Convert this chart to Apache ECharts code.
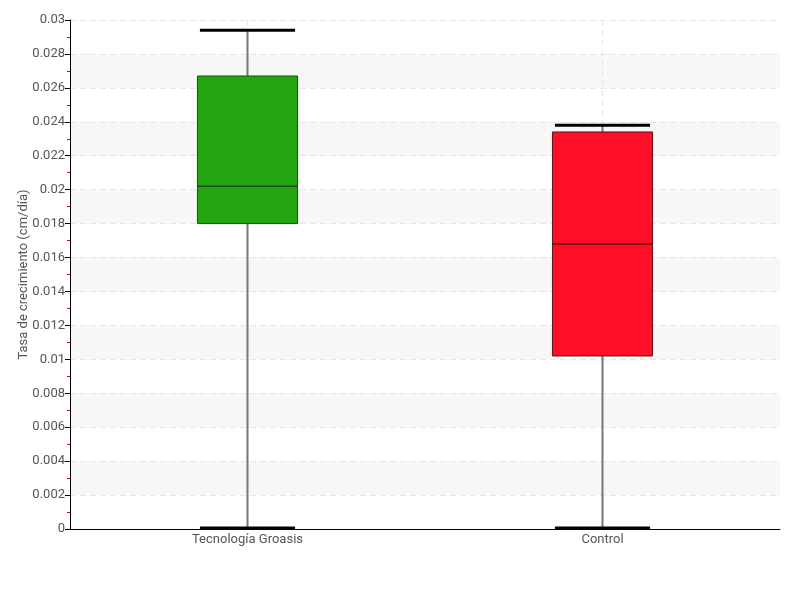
<!DOCTYPE html>
<html>
<head>
<meta charset="utf-8">
<script src="https://cdn.jsdelivr.net/npm/echarts@6/dist/echarts.min.js"></script>
<style>html,body{margin:0;padding:0;background:#fff}#c{width:800px;height:600px}</style>
</head>
<body>
<div id="c"></div>
<script>
const categories = ['Tecnología Groasis', 'Control'];
const mins = [0, 0];
const q1s = [0.0180, 0.0102];
const medians = [0.0202, 0.0168];
const q3s = [0.0267, 0.0234];
const maxs = [0.0294, 0.0238];
const fills = ['#22a511', '#ff0f27'];
const borders = ['#1d4a17', '#5a1018'];
const yTicks = [0, 0.002, 0.004, 0.006, 0.008, 0.01, 0.012, 0.014, 0.016, 0.018, 0.02, 0.022, 0.024, 0.026, 0.028, 0.03];

const FONT = 'Roboto, "Liberation Sans", sans-serif';
const data = categories.map((c, i) => [i, mins[i], q1s[i], medians[i], q3s[i], maxs[i]]);

const chart = echarts.init(document.getElementById('c'), null, {renderer: 'canvas'});
chart.setOption({
  animation: false,
  grid: {left: 70, right: 20, top: 20, bottom: 71, containLabel: false, outerBoundsMode: 'none'},
  xAxis: {
    type: 'category',
    data: categories,
    boundaryGap: true,
    axisLine: {lineStyle: {color: '#000', width: 1}},
    axisTick: {show: false},
    axisLabel: {color: '#555', fontFamily: FONT, fontSize: 13, margin: 4},
    splitLine: {show: true, alignWithLabel: true, lineStyle: {color: '#e6e6e6', type: [6, 4]}}
  },
  yAxis: {
    type: 'value',
    min: 0, max: 0.03, interval: 0.002,
    name: 'Tasa de crecimiento (cm/día)',
    nameLocation: 'middle',
    nameGap: 40,
    nameMoveOverlap: false,
    nameTextStyle: {color: '#555', fontFamily: FONT, fontSize: 13},
    axisLine: {show: true, onZero: false, lineStyle: {color: '#000', width: 1}},
    axisTick: {show: true, inside: false, length: 5, lineStyle: {color: '#000'}},
    minorTick: {show: true, splitNumber: 2, length: 3, lineStyle: {color: '#e00000'}},
    axisLabel: {color: '#555', fontFamily: FONT, fontSize: 13, margin: 5, inside: false,
      formatter: v => { const t = yTicks.find(x => Math.abs(x - v) < 1e-9); return String(+(t !== undefined ? t : v).toFixed(3)); }},
    splitLine: {show: true, lineStyle: {color: '#e6e6e6', type: [6, 4]}},
    splitArea: {show: true, areaStyle: {color: ['rgba(255,255,255,0)', '#f7f7f7']}}
  },
  series: [{
    type: 'custom',
    data: data,
    encode: {x: 0, y: [1, 2, 3, 4, 5]},
    renderItem: function (params, api) {
      const i = api.value(0);
      const band = api.size([1, 0])[0];
      const bw = band * 0.282;
      const cw = band * 0.268;
      const pMin = api.coord([i, api.value(1)]);
      const pQ1 = api.coord([i, api.value(2)]);
      const pMed = api.coord([i, api.value(3)]);
      const pQ3 = api.coord([i, api.value(4)]);
      const pMax = api.coord([i, api.value(5)]);
      const x = pQ1[0];
      return {
        type: 'group',
        children: [
          {type: 'line', shape: {x1: x, y1: pMin[1], x2: x, y2: pMax[1]}, style: {stroke: '#777', lineWidth: 2}},
          {type: 'rect', shape: {x: x - bw / 2, y: pQ3[1], width: bw, height: pQ1[1] - pQ3[1]},
            style: {fill: fills[i], stroke: borders[i], lineWidth: 1}},
          {type: 'line', shape: {x1: x - bw / 2, y1: pMed[1], x2: x + bw / 2, y2: pMed[1]}, style: {stroke: borders[i], lineWidth: 1.5}},
          {type: 'line', shape: {x1: x - cw / 2, y1: pMax[1], x2: x + cw / 2, y2: pMax[1]}, style: {stroke: '#000', lineWidth: 3}},
          {type: 'line', shape: {x1: x - cw / 2, y1: pMin[1] - 1, x2: x + cw / 2, y2: pMin[1] - 1}, style: {stroke: '#000', lineWidth: 3}}
        ]
      };
    }
  }]
});
</script>
</body>
</html>
